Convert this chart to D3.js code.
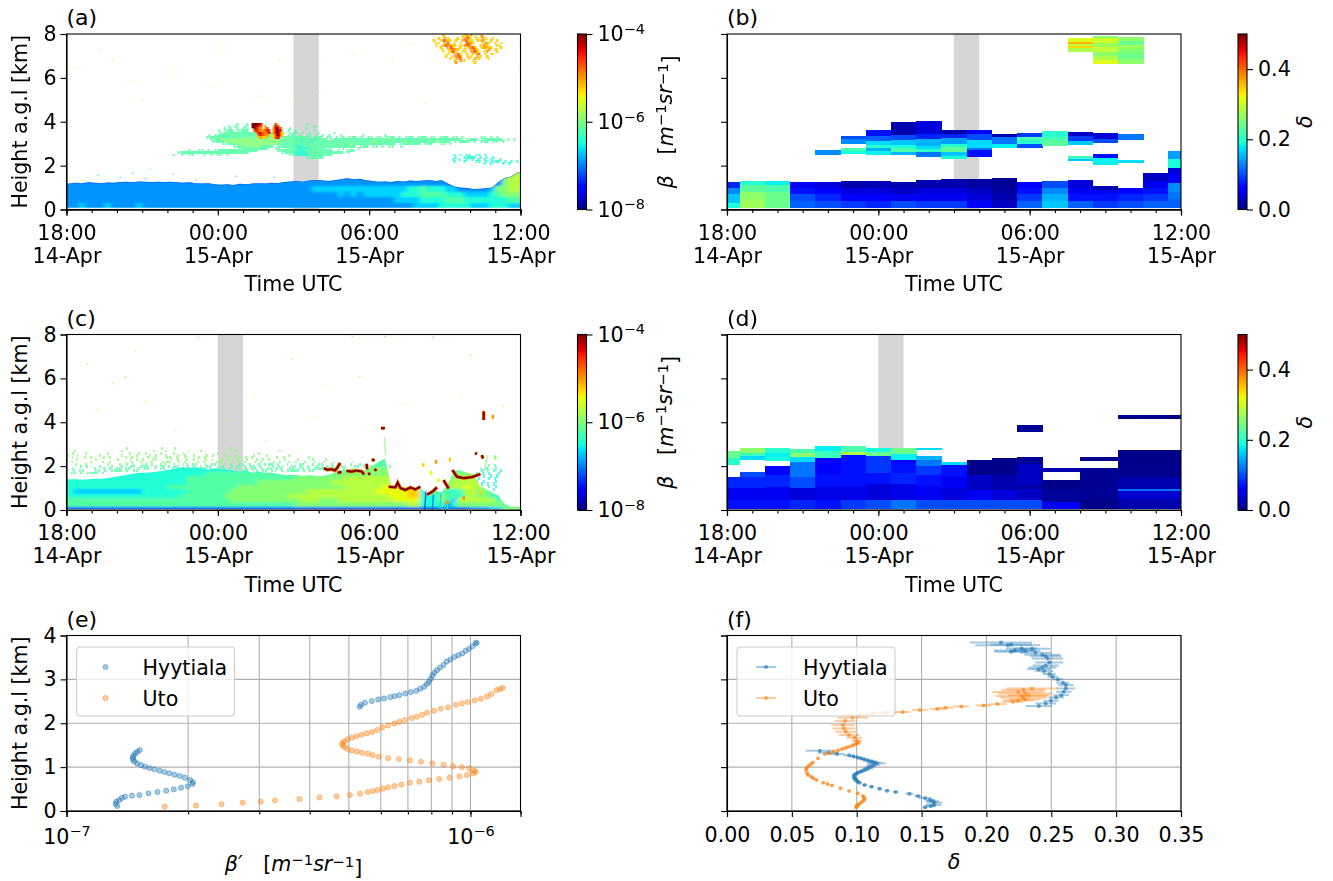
<!DOCTYPE html>
<html>
<meta charset='utf-8'>
<head>
<title>lidar curtains and profiles</title>
<script src='https://d3js.org/d3.v7.min.js'></script>
<style>
body { margin: 0; background: white; }
text { font-family: 'DejaVu Sans', sans-serif; fill: black; }
</style>
</head>
<body>
<div id='my_dataviz'></div>
<script>
// ---- data ----
var timeTicks = [0, 6, 12, 18]   // hours after 18:00 14-Apr
var timeLabels = ['18:00', '00:00', '06:00', '12:00']
var dateLabels = ['14-Apr', '15-Apr', '15-Apr', '15-Apr']
var heightTicks = [0, 2, 4, 6, 8]
var profileHeightTicks = [0, 1, 2, 3, 4]
var deltaTicks = [0, 0.05, 0.1, 0.15, 0.2, 0.25, 0.3, 0.35]
var betaBarTicks = [-8, -6, -4]
var deltaBarTicks = [0, 0.2, 0.4]
var betaMinorTicks = [2e-7, 3e-7, 4e-7, 5e-7, 6e-7, 7e-7, 8e-7, 9e-7, 1e-6]

// one character per cell in the curtains, log10(beta)
var levelKeys = '0123456789abcd'
var levelLog = [-7.4, -7.16, -6.92, -6.68, -6.44, -6.2, -5.96, -5.72, -5.48, -5.24, -5.0, -4.72, -4.4, -4.0]

// (a) Hyytiala attenuated backscatter
var aTop = [1.18,1.22,1.2,1.24,1.22,1.2,1.23,1.22, 1.25,1.27,1.24,1.28,1.26,1.25,1.27,1.25,
  1.27,1.24,1.22,1.24,1.2,1.18,1.2,1.15, 1.13,1.15,1.12,1.17,1.15,1.18,1.2,1.18,
  1.22,1.2,1.25,1.28,1.3,1.27,1.32,1.35, 1.33,1.3,1.33,1.38,1.42,1.38,1.4,1.33,
  1.3,1.27,1.28,1.25,1.3,1.28,1.32,1.3, 1.32,1.34,1.3,1.33,1.18,1.05,1.0,0.98,
  0.93,0.95,0.97,1.0,1.25,1.45,1.5,1.7]
var aLowEdges = [1.9, 1.05, 0.8, 0.55, 0.3, 0]
var aLowRows = [
  '22222222 22222222 22222222 22222222 22222222 22222222 22222222 22222222 22222677',
  '22222222 22222222 22222222 22222222 22222223 33333333 33333344 54443322 22236677',
  '22222222 22222222 22222222 22222222 22222222 22232323 33333444 55554443 33345666',
  '22222222 22222222 22222222 22222222 22222222 22222222 22223333 44445554 44444455',
  '22322232 22232222 22222222 22222222 22222222 22222222 22222223 33344444 33344433'
]
var aLayerTop = 3.95
var aLayerRows = [
  '_ _ _ ......5. .5...... ........ ....5...',
  '_ _ _ ...5.5.. 5..5.... .5...... ......5.',
  '_ _ _ .5.5.5.5 5.55.... ...5..5. ...5....',
  '_ _ _ 5.555.55 55.5.5.. .55.5.5. 5.....5.',
  '_ _ _ 55555555 5555.5.5 5.555.55 5.5.5..5 ....5...',
  '_ _ .....5.5 55555555 55555555 55555.55 5.5.55.5 .5.5...5 ......5. .....5..',
  '_ _ ....5555 55455555 55655655 55555555 55555.55 5.55.5.5 .555.5.5 5.55.555 .5.555.5 55.55.55 5.55.5.. ...55.5. 5.......',
  '_ _ .....555 66566566 66566656 66566555 55555455 55.55555 55555555 55555655 55545555 55655555 55555.55 55.55555 55.5.5..',
  '_ _ ......55 55666666 66666666 66665555 55455555 55555555 55555555 56555555 55565555 55555655 55.55555 .5.555.5 5.5.....',
  '_ _ _ .5555666 66666666 66555555 55555555 55555555 56555555 55555555 .5555555 .555..55 .5......',
  '_ _ _ .....555 66666655 55.55555 54455555 55555555 5555.555 .55.5.55 ..5.....',
  '_ _ _ ......55 55555555 ..55.555 54445555 55.5...5 ....5...',
  '_ ......5. .55.5.55 55555555 5555.... ..555555 44455555 5555.5.. 555.....',
  '_ ...55555 55555555 55555555 55...... ....5555 44445555 55555555 .5......',
  '_ .5..5.55 ...5.5.5 5.5..... _ ......55 44445555 5555.... _ _ _ _ ..4.4.44 .44.4...',
  '_ _ _ _ _ _ ....5555 55...... _ _ _ _ ...4..44 44.4.4.4',
  '_ _ _ _ _ _ _ _ _ _ _ _ ..4.4.4. 4.4.4.4. .4......',
  '_ _ _ _ _ _ _ _ _ _ _ _ ..4..4.. .44.4.44 4.4.4.4.',
  '_ _ _ _ _ _ _ _ _ _ _ _ _ ....4.4. ..4.4...'
]
var aBlobTop = 3.95
var aBlobRows = [
  '.ddddc......b...',
  '.dddcb.a....cb..',
  '..dcba.ab..acdb.',
  '..bcbaabcb.acdc.',
  '...accbabc.acdc9',
  '....bcbaa9.9bdc9',
  '....9a99...9bc..'
]
var aIceTop = 8.05
var aIceRows = [
  '...9......9.a..9......',
  '...9.....9a9.9.a......',
  '.9.a9..9.ab9.9.a9.9...',
  '9.9b99.9.ab99.9a9.9.9.',
  '99.ab.9.9.ba9..9a9.9.9',
  '.9.9ba99.9ab9..9a9..99',
  '..9.ab9.9.9ab9.9a99..9',
  '..9.9ba9.9.ab9..9a.9..',
  '...9.9b9.99.ab9.9a..9.',
  '....9.ab9.9.9ab.9.9...',
  '....9.9ab9.99.a9.9....',
  '.....9.ab..9.a9..9....',
  '......9.a9..9.........',
  '.......a.....9........'
]
var aDots = [[1.2,1.6,'3'],[2.6,1.7,'3'],[3.1,1.45,'3'],[4.2,1.65,'4'],[5.1,1.4,'3'],[3.3,1.9,'4'],[6.7,1.55,'3'],[8.2,1.5,'3'],[2.1,1.5,'3'],
  [0.3,6.5,'8'],[1.3,7.3,'7'],[1.8,6.8,'8'],[4.2,6.3,'8'],[2.6,5.9,'8'],[6.1,7.4,'8'],[8.4,6.9,'7'],[10,5.4,'7'],[9.9,6.7,'8'],[12.9,6.9,'8'],
  [3,5.0,'7'],[17.9,6.5,'8'],[9.2,5.1,'8'],[5.7,5.6,'7'],[13.6,7.6,'7'],[11.3,7.1,'8'],[16.8,3.3,'5'],[17.2,3.2,'5'],[14.2,4.9,'7'],[7.6,5.2,'7']]

// (c) Uto attenuated backscatter
var cTop = [1.4,1.4,1.38,1.4,1.42,1.42,1.45,1.5, 1.55,1.6,1.65,1.7,1.7,1.72,1.75,1.8,
  1.85,1.9,1.95,1.9,1.95,1.9,1.85,1.9, 1.85,1.85,1.8,1.75,1.8,1.7,1.75,1.7,
  1.7,1.65,1.6,1.6,1.6,1.55,1.6,1.55, 1.55,1.6,1.7,1.8,1.85,1.9,1.85,1.8,
  2.0,2.2,2.35,1.1,1.05,1.05,1.05,1.0, 0.95,0.6,0.9,0.8,1.2,1.8,1.8,1.7,
  1.65,1.1,0.95,0.8,0.65,0.25,0.15,0.15]
var cLowEdges = [2.6, 1.95, 1.75, 1.55, 1.35, 1.15, 0.95, 0.75, 0.55, 0.35, 0.15, 0]
var cLowRows = [
  '44444444 44444444 44444444 44444444 44444444 44445555 55555555 44444555 55555555',
  '44444444 44444444 44444444 44444444 44444555 55556666 66666666 44444555 55555555',
  '44444444 44444444 44444455 55555555 55555555 55666666 66666666 44555666 66665555',
  '44444444 44444444 44455555 55555555 55556666 66667777 77777666 45556677 77665555',
  '44444444 44444444 44455555 55555566 66666666 66777777 77777777 45566777 77665555',
  '44444444 44444444 55555555 55566666 66666666 66667777 77888888 45566778 77665555',
  '43333333 33334444 44455555 55666666 66666677 77777777 78888899 45555457 76655555',
  '44444444 44444444 44555555 56666666 66677777 77777777 77788899 44465547 76654555',
  '55555555 55555555 55555555 55666666 66666777 66677777 77778888 44465377 77775555',
  '55555555 55555555 55555555 55555555 55556666 66666666 66666677 44452466 66666555',
  '11111111 11111111 11111111 11111111 11111111 11111111 11111111 11122111 22233666'
]
var cSpeckTop = 2.85
var cSpeckRows = [
  '_ _ ...6.... ......6. ..6..... _ ....6...',
  '..6..... _ .6...... ...6...6 ......6. ..6..... .....6.. _ ...6....',
  '.6...6.. ....6... ...6..6. 6....6.. .6..6... ...6...6 .6...... ....6...',
  '6..6.... ..6..... .6....6. ..6.6..6 ...6.6.. 6...6.6. ..6..6.. ...6...6 ......6.',
  '.6...6.6 ...6.6.. ..6.6... .6.6...6 6.6..6.. .6.6.... ...6..6. 6.6..... ..6.6... ....6...',
  '6..6.... .6...... 6...6.6. 6..66... .6.6..6. 6...6.6. .6.6..6. .6..6.6. 6....6.. .6....6. ..6.....',
  '.6.....6 ...6.6.. ..6.6..6 .66...66 6..6.6.. .6.6...6 66..6.6. 6..6.6.. .6.6..6. 6..6..6. .6..6... ..6.....',
  '..6..6.. ....6... 6.5.6..5 5.6..56. .5..55.5 5..5.55. .5.5..55 .5..5.55 5.5..5.. .55..5.5 5..5.5.. .5..5.5.',
  '....5.5. ..5...5. .5..55.5 55..5.5. 5.55..5. 5.5.55.. 55..5.5. 5.55.5.. .5.55..5 5.5.5..5 .55.5..5 5..55.5. 5.5...5.',
  '.5...... 5..5.5.5 5.55..5. 55.5.55. .55.5.55 5.55.5.5 55.5.55. 5.55.5.5 5.55..55 .55.5.55 5.5.55.5',
  '5.5.55.. .55.5.55 55.5.55. _ _ _ _ 55.55.55 .55.5.55 55.5.55.',
  '.55.5.55 55.5....'
]
var cRightSpeckTop = 2.1
var cRightSpeckRows = [
  '....5.5.', '.5.4..5.', '.4.5.4.4', '4.4.4..4', '..4.4.4.', '.4..4.4.', '4.4...4.', '.4.4.4..', '4...4.4.', '..4..4..'
]
var cCloudLines = [
  [[10.2,1.9],[10.35,1.83],[10.5,1.86],[10.65,1.8],[10.75,1.95],[10.85,2.14]],
  [[10.75,1.7],[10.9,1.73]],
  [[11.1,1.78],[11.3,1.75],[11.5,1.8],[11.7,1.76],[11.8,1.62]],
  [[11.95,1.64],[12.05,1.66]],
  [[11.9,2.1],[11.92,1.85]],
  [[12.1,2.3],[12.22,2.26]],
  [[12.22,1.78],[12.28,1.88]],
  [[12.47,3.73],[12.62,3.73]],
  [[12.77,1.06],[13.04,1.03],[13.13,1.25],[13.24,1.0],[13.43,0.91],[13.63,1.03],[13.83,0.94],[14.03,1.06]],
  [[14.3,0.7],[14.5,0.83],[14.69,1.03]],
  [[14.95,1.36],[15.15,0.98]],
  [[15.3,1.82],[15.48,1.52],[15.75,1.45],[16.08,1.5],[16.41,1.64]],
  [[16.2,2.6],[16.27,2.55]],
  [[16.46,2.5],[16.52,2.35]],
  [[16.54,4.5],[16.54,4.1]]
]
var cVeins = [[14.2,0,14.25,0.85,'0'],[14.5,0,14.55,0.7,'1'],[14.8,0,14.85,0.8,'3'],[15.1,0,15.15,1.2,'4'],[12.65,2.5,12.6,3.3,'6'],[16.55,1.7,16.7,2.5,'6']]
var cSpots = [[14.15,2.05,'9'],[14.65,2.2,'a'],[15.2,2.3,'9'],[15.1,0.35,'a'],[15.75,0.55,'a'],[16.4,0.8,'9'],[17.0,2.4,'6'],[16.9,4.25,'a'],[14.45,1.7,'8'],[14.75,1.35,'8']]
var cDots = [[1.2,4.6,'9'],[2.3,6.1,'a'],[0.8,6.7,'9'],[1.8,5.8,'9'],[3.1,5.0,'8'],[5.2,7.9,'a'],[11.3,7.95,'a'],[12.6,7.95,'a'],[4.3,3.7,'6'],[7.9,3.2,'6'],
  [8.9,6.9,'9'],[10.2,5.7,'8'],[11.6,6.1,'9'],[14.5,7.9,'a'],[16,7.1,'9'],[15.6,5.2,'8'],[6.4,4.1,'8'],[9.8,4.3,'8'],[17.3,4.8,'9'],[13.4,4.9,'8'],[2.7,7.3,'9'],[7.4,5.3,'8']]

// (b) and (d) depolarisation, one column of [bottom, top, delta] per averaged hour
var bEdges = [0,0.5,1.5,2.5,3.5,4.5,5.5,6.5,7.5,8.5,9.5,10.5,11.5,12.5,13.5,14.5,15.5,16.5,17.5,18]
var bColumns = [
  [[.07,.3,.19],[.3,.7,.16],[.7,1,.13],[1,1.27,.08]],
  [[.07,.5,.27],[.5,.8,.26],[.8,1.1,.23],[1.1,1.3,.2]],
  [[.07,.5,.24],[.5,.8,.24],[.8,1.1,.22],[1.1,1.3,.18]],
  [[.07,.4,.11],[.4,.7,.1],[.7,1,.07],[1,1.25,.05]],
  [[.07,.4,.1],[.4,.7,.08],[.7,1,.055],[1,1.25,.04],[2.48,2.72,.13]],
  [[.07,.4,.09],[.4,.7,.06],[.7,1,.04],[1,1.28,.02],[2.55,2.68,.19],[2.68,2.8,.22],[3,3.2,.13],[3.2,3.35,.1]],
  [[.07,.4,.08],[.4,.7,.055],[.7,1,.04],[1,1.28,.025],[2.5,2.65,.18],[2.65,2.8,.15],[2.8,2.95,.2],[2.95,3.1,.17],[3.1,3.35,.11],[3.35,3.63,.07]],
  [[.07,.4,.1],[.4,.7,.05],[.7,1,.03],[1,1.25,.02],[2.5,2.6,.15],[2.6,2.8,.22],[2.8,2.95,.19],[2.95,3.15,.16],[3.15,3.4,.1],[3.4,3.98,.02]],
  [[.07,.4,.09],[.4,.7,.05],[.7,1,.04],[1,1.33,.02],[2.38,2.6,.12],[2.6,2.75,.2],[2.75,2.9,.17],[2.9,3.2,.15],[3.2,3.45,.08],[3.45,4.02,.04]],
  [[.07,.4,.09],[.4,.7,.05],[.7,1,.04],[1,1.38,.02],[2.3,2.45,.19],[2.45,2.6,.16],[2.6,2.85,.23],[2.85,3,.2],[3,3.25,.14],[3.25,3.45,.08],[3.45,3.63,.02]],
  [[.07,.4,.06],[.4,.7,.04],[.7,1,.03],[1,1.38,.015],[2.4,2.7,.07],[2.7,2.8,.12],[2.8,3.15,.17],[3.15,3.45,.1],[3.45,3.63,.06]],
  [[.07,.4,.03],[.4,.7,.02],[.7,1,.015],[1,1.42,.01],[2.8,3,.18],[3,3.3,.12],[3.3,3.45,.02]],
  [[.07,.4,.11],[.4,.7,.09],[.7,1,.07],[1,1.25,.06],[2.8,3,.1],[3,3.15,.2],[3.15,3.3,.22],[3.3,3.47,.09]],
  [[.07,.4,.16],[.4,.7,.15],[.7,1,.13],[1,1.28,.1],[2.9,3.1,.23],[3.1,3.3,.22],[3.3,3.58,.2]],
  [[.07,.4,.11],[.4,.7,.07],[.7,1,.05],[1,1.33,.04],[2.2,2.3,.16],[2.3,2.45,.21],[2.95,3.1,.16],[3.1,3.35,.09],[3.35,3.52,.03],
    [7.2,7.35,.28],[7.35,7.45,.34],[7.45,7.55,.29],[7.55,7.65,.36],[7.65,7.8,.31]],
  [[.07,.4,.09],[.4,.7,.07],[.7,.9,.05],[.9,1.05,.02],[2.05,2.35,.18],[2.35,2.53,.07],[3.03,3.2,.1],[3.2,3.5,.04],
    [6.65,6.8,.31],[6.8,7,.28],[7,7.2,.26],[7.2,7.4,.29],[7.4,7.6,.27],[7.6,7.8,.3],[7.8,7.92,.26]],
  [[.07,.4,.1],[.4,.7,.08],[.7,.9,.06],[.9,1,.05],[2.13,2.25,.17],[3.18,3.42,.12],
    [6.65,6.85,.26],[6.85,7.1,.24],[7.1,7.3,.25],[7.3,7.5,.27],[7.5,7.7,.24],[7.7,7.85,.26]],
  [[.07,.4,.11],[.4,.7,.09],[.7,1,.07],[1,1.3,.05],[1.3,1.65,.03]],
  [[.07,.5,.11],[.5,.8,.12],[.8,1.2,.13],[1.2,1.6,.06],[1.6,1.9,.04],[1.9,2.3,.19],[2.3,2.65,.14]]
]
var dEdges = [0,0.5,1.5,2.5,3.5,4.5,5.5,6.5,7.5,8.5,9.5,10.5,11.5,12.5,14,15.5,18]
var dColumns = [
  [[.05,.45,.07],[.45,1,.05],[1,1.52,.08],[2.05,2.35,.2],[2.35,2.67,.24]],
  [[.05,.45,.07],[.45,1,.05],[1,1.5,.08],[1.5,1.72,.1],[2.28,2.45,.17],[2.45,2.6,.21],[2.6,2.81,.26]],
  [[.05,.45,.07],[.45,1.05,.05],[1.05,1.6,.08],[1.6,2.02,.06],[2.24,2.4,.19],[2.4,2.6,.18],[2.6,2.81,.2]],
  [[.05,.45,.08],[.45,1,.04],[1,1.5,.1],[1.5,2.2,.12],[2.2,2.4,.17],[2.4,2.6,.26],[2.6,2.77,.22]],
  [[.05,.45,.07],[.45,1.1,.045],[1.1,1.6,.07],[1.6,2.35,.06],[2.35,2.7,.21],[2.7,2.93,.18]],
  [[.05,.45,.09],[.45,1.1,.045],[1.1,1.6,.07],[1.6,2.5,.07],[2.5,2.65,.28],[2.65,2.9,.22]],
  [[.05,.45,.1],[.45,1.2,.04],[1.2,1.7,.07],[1.7,2.3,.09],[2.3,2.45,.09],[2.45,2.65,.24],[2.65,2.81,.19]],
  [[.05,.45,.12],[.45,1.2,.045],[1.2,1.7,.08],[1.7,2.15,.07],[2.15,2.3,.06],[2.3,2.55,.18],[2.55,2.84,.24]],
  [[.05,.45,.1],[.45,1.1,.05],[1.1,1.6,.07],[1.6,2,.09],[2,2.3,.12],[2.3,2.46,.15],[2.75,2.84,.17]],
  [[.05,.45,.1],[.45,1,.04],[1,1.5,.05],[1.5,2.05,.07],[2.05,2.17,.17]],
  [[.05,.45,.1],[.45,.9,.05],[.9,1.6,.03],[1.6,2.28,.005]],
  [[.05,.45,.1],[.45,.9,.04],[.9,1.6,.02],[1.6,2.36,.005]],
  [[.05,.45,.1],[.45,.95,.03],[.95,1.15,.015],[1.15,2.1,.03],[2.1,2.42,.01],[3.55,3.87,.01]],
  [[.05,.35,.05],[.35,.9,.012],[.9,1.37,.005],[1.75,1.92,.02]],
  [[.05,.5,.005],[.5,1,.01],[1,1.9,.008],[2.25,2.43,.005]],
  [[.05,.5,.02],[.5,.88,.035],[.88,.94,.12],[.94,1.5,.02],[1.5,2,.007],[2,2.74,.005],[4.15,4.33,.005]]
]

// (e) profiles of beta'
var eHyyBeta = [1.336,1.323,1.328,1.35,1.371,1.396,1.452,1.516,1.596,1.68,1.765,1.843,1.921,1.995,2.051,2.055,2.022,1.964,1.907,1.851,1.797,1.748,1.7,1.651,1.605,1.565,1.529,1.496,1.472,1.46,1.46,1.466,1.481,1.498,1.519,
  5.32,5.36,5.48,5.7,5.91,6.11,6.33,6.49,6.67,6.9,7.12,7.34,7.51,7.68,7.8,7.89,7.97,8.05,8.14,8.26,8.41,8.58,8.74,8.92,9.13,9.33,9.54,9.73,9.92,10.12,10.3,10.36]
var eHyyHeight = [.114,.159,.213,.25,.296,.326,.349,.364,.402,.433,.463,.493,.531,.562,.615,.66,.706,.759,.797,.827,.858,.888,.918,.949,.979,1.01,1.047,1.085,1.131,1.176,1.222,1.268,1.313,1.351,1.389,
  2.376,2.421,2.467,2.505,2.543,2.565,2.596,2.619,2.641,2.679,2.71,2.74,2.786,2.831,2.892,2.945,3.013,3.089,3.15,3.21,3.271,3.332,3.408,3.453,3.514,3.552,3.59,3.651,3.696,3.757,3.818,3.84]
var eUtoBeta = [1.751,2.091,2.42,2.73,3.025,3.281,3.773,4.231,4.66,5.03,5.33,5.57,5.73,5.89,6.07,6.25,6.48,6.74,7.08,7.47,7.89,8.37,8.88,9.39,9.8,10.16,10.3,10.2,
  9.94,9.52,9.06,8.58,8.05,7.54,7.08,6.65,6.25,5.93,5.73,5.57,5.39,5.24,5.09,4.96,4.87,4.82,4.82,4.87,4.96,5.09,5.22,5.37,5.53,5.7,5.87,6.05,6.25,6.48,6.67,6.87,7.15,7.36,7.59,7.81,8.13,8.45,8.8,9.2,9.52,9.84,10.24,10.61,10.99,11.26,11.6,11.83,12.02]
var eUtoHeight = [.099,.121,.152,.19,.213,.243,.273,.311,.334,.364,.395,.433,.455,.478,.509,.539,.569,.6,.645,.668,.698,.729,.759,.789,.82,.858,.896,.918,
  .972,1.002,1.025,1.055,1.085,1.123,1.154,1.184,1.207,1.237,1.275,1.306,1.328,1.351,1.381,1.419,1.457,1.503,1.541,1.586,1.632,1.67,1.708,1.738,1.768,1.799,1.844,1.905,1.951,1.996,2.034,2.072,2.118,2.148,2.194,2.239,2.285,2.33,2.361,2.421,2.452,2.482,2.52,2.558,2.611,2.664,2.755,2.778,2.808]

// (f) profiles of delta with spread
var fHyyDelta = [.1527,.157,.1593,.1601,.1585,.1566,.1527,.1473,.1407,.13,.1234,.1176,.1114,.1061,.1021,.1005,.0995,.0985,.0981,.0981,.0995,.1008,.1028,.1048,.1068,.1088,.1108,.1128,.1154,.1135,.1114,.1088,.1061,.1035,.1008,.0975,.0941,.0848,.0782,.0715,
  .2404,.2457,.2497,.2537,.2577,.2596,.2612,.2612,.259,.2551,.2511,.2484,.2444,.2404,.2431,.2457,.2484,.2471,.2457,.2431,.2378,.2298,.2351,.2191,.2218,.2271,.2191,.2165,.2112]
var fHyyHeight = [.083,.11,.137,.19,.22,.25,.296,.342,.395,.433,.463,.509,.554,.592,.645,.675,.706,.735,.767,.82,.85,.873,.895,.918,.945,.972,1.01,1.047,1.085,1.108,1.131,1.153,1.176,1.199,1.222,1.245,1.268,1.298,1.328,1.374,
  2.391,2.452,2.512,2.588,2.641,2.717,2.793,2.869,2.922,2.998,3.059,3.12,3.188,3.233,3.27,3.317,3.385,3.476,3.529,3.56,3.605,3.651,3.7,3.628,3.66,3.704,3.795,3.78,3.84]
var fHyyErr = [.002,.004,.006,.006,.005,.004,.005,.003,.003,.002,.002,.002,.002,.002,.002,.002,.002,.002,.002,.002,.002,.002,.002,.003,.003,.004,.004,.005,.007,.005,.004,.004,.003,.003,.003,.003,.004,.006,.008,.011,
  .01,.008,.006,.006,.006,.006,.007,.006,.005,.004,.004,.005,.007,.009,.011,.01,.011,.012,.012,.014,.012,.012,.014,.013,.016,.012,.016,.025,.024]
var fUtoDelta = [.0995,.1,.1008,.102,.1035,.105,.1061,.1055,.1048,.1008,.0941,.0875,.0809,.0775,.0742,.0689,.0665,.0649,.0625,.0617,.0609,.0615,.0628,.0645,.0662,.0702,.0755,.079,.0822,.0855,.0888,.0915,.0941,.097,.0995,.1008,.1,.0981,.0941,.0915,.0902,.0894,.091,.0968,.1021,.1128,.1234,.1354,.1487,.162,.1686,.1806,.1979,.2085,.2205,.2245,.2298,.2285,.2271,.2325,.2298,.2245,.2285,.2352]
var fUtoHeight = [.083,.11,.137,.165,.197,.235,.273,.31,.342,.402,.455,.516,.584,.615,.645,.706,.745,.782,.82,.858,.934,.98,1.025,1.065,1.108,1.199,1.298,1.325,1.351,1.38,1.412,1.44,1.465,1.495,1.526,1.565,1.602,1.67,1.731,1.806,1.882,1.958,2.057,2.133,2.186,2.224,2.247,2.254,2.3,2.323,2.353,2.383,2.406,2.436,2.49,2.52,2.543,2.58,2.62,2.64,2.679,2.71,2.755,2.79]
var fUtoErr = [.001,.001,.002,.001,.001,.001,.001,.001,.001,.001,.001,.001,.001,.001,.001,.001,.001,.001,.001,.001,.001,.001,.001,.001,.001,.001,.001,.001,.001,.002,.002,.002,.002,.002,.003,.003,.004,.006,.008,.008,.009,.009,.008,.012,.012,.01,.008,.006,.006,.006,.006,.006,.006,.007,.008,.012,.012,.018,.02,.016,.021,.02,.017,.02]

// ---- layout ----
var leftX = 66.5, rightX = 727, plotW = 454, plotH = 175.5
var row1 = 34, row2 = 334.5, row3 = 635.5
var barOffset = 511, barW = 9
var fontSize = 20.6, letterSize = 22
var blue = '#1f77b4', orange = '#ff7f0e', shade = '#d6d6d6'

var svg = d3.select('#my_dataviz').append('svg').attr('width', 1333).attr('height', 881)
var defs = svg.append('defs')
defs.append('filter').attr('id', 'soft')
  .attr('x', 0).attr('y', 0).attr('width', 1).attr('height', 1)
  .append('feGaussianBlur').attr('stdDeviation', 0.5)
defs.append('filter').attr('id', 'smear')
  .attr('x', 0).attr('y', 0).attr('width', 1).attr('height', 1)
  .append('feGaussianBlur').attr('stdDeviation', '2.2 0.9')

var jetR = d3.scaleLinear().domain([0,.35,.66,.89,1]).range([0,0,255,255,127]).clamp(true)
var jetG = d3.scaleLinear().domain([0,.125,.375,.64,.91,1]).range([0,0,255,255,0,0]).clamp(true)
var jetB = d3.scaleLinear().domain([0,.11,.34,.65,1]).range([127,255,255,0,0]).clamp(true)
function jet(f) { return 'rgb(' + jetR(f) + ',' + jetG(f) + ',' + jetB(f) + ')' }

var betaColor = d3.scaleLog().domain([1e-8, 1e-4]).range([0, 1])
var deltaColor = d3.scaleLinear().domain([0, 0.5]).range([0, 1])
function levelValue(ch) { return Math.pow(10, levelLog[levelKeys.indexOf(ch)]) }
function levelColor(ch) { return jet(betaColor(levelValue(ch))) }

var x = d3.scaleLinear().domain([0, 18]).range([0, plotW])
var yKm = d3.scaleLinear().domain([0, 8]).range([plotH, 0])
var yProfile = d3.scaleLinear().domain([0, 4]).range([plotH, 0])

var clipCount = 0
function addPanel(left, top, letter) {
  var g = svg.append('g').attr('transform', 'translate(' + left + ',' + top + ')')
  g.append('text').attr('x', 0).attr('y', -9).style('font-size', letterSize + 'px').text('(' + letter + ')')
  clipCount++
  g.append('clipPath').attr('id', 'clip' + clipCount).append('rect').attr('width', plotW).attr('height', plotH)
  g.body = g.append('g').attr('clip-path', 'url(#clip' + clipCount + ')')
  return g
}

function styleAxis(sel) {
  sel.style('font-family', "'DejaVu Sans', sans-serif").style('font-size', fontSize + 'px')
  sel.selectAll('.domain').attr('stroke', 'black').attr('stroke-width', 1.1)
  sel.selectAll('.tick line').attr('stroke', 'black').attr('stroke-width', 1.1)
}

function frame(g) {
  g.append('rect').attr('width', plotW).attr('height', plotH)
    .attr('fill', 'none').attr('stroke', 'black').attr('stroke-width', 1.1)
}

function timeAxis(g) {
  var minor = g.append('g').attr('transform', 'translate(0,' + plotH + ')')
    .call(d3.axisBottom(x).tickValues(d3.range(0, 19)).tickSize(3.5).tickFormat(''))
  styleAxis(minor)
  var major = g.append('g').attr('transform', 'translate(0,' + plotH + ')')
    .call(d3.axisBottom(x).tickValues(timeTicks).tickSize(6).tickPadding(9.5).tickFormat(function(d, i) { return timeLabels[i] }))
  styleAxis(major)
  major.selectAll('.tick').append('text')
    .attr('fill', 'black').attr('y', 38.5).attr('dy', '0.71em').attr('text-anchor', 'middle')
    .text(function(d, i) { return dateLabels[i] })
  g.append('text').attr('x', plotW / 2).attr('y', plotH + 81.5).attr('text-anchor', 'middle')
    .style('font-size', fontSize + 'px').text('Time UTC')
}

function heightAxis(g, scale, ticks, labelled) {
  var axis = d3.axisLeft(scale).tickValues(ticks).tickSize(6).tickPadding(4)
  axis.tickFormat(labelled ? d3.format('d') : '')
  styleAxis(g.append('g').call(axis))
  if (labelled) {
    g.append('text').attr('transform', 'translate(-40,' + (plotH / 2) + ') rotate(-90)')
      .attr('text-anchor', 'middle').style('font-size', fontSize + 'px').text('Height a.g.l [km]')
  }
}

function addGray(g, hour) {
  g.body.append('rect').attr('x', x(hour)).attr('width', x(hour + 1) - x(hour))
    .attr('y', 0).attr('height', plotH).attr('fill', shade)
}

// strings become cells; '_' is a blank hour, '.' a blank cell
function expandRow(row) { return row.replace(/_/g, '........').replace(/ /g, '') }

function gridCells(rows, t0, dt, topKm, dh, stagger) {
  var cells = []
  rows.forEach(function(row, r) {
    var chars = expandRow(row).split('')
    var shift = stagger ? ((r * 7) % 5) * dt / 5 : 0
    chars.forEach(function(ch, c) {
      if (ch === '.') return
      cells.push({
        t0: t0 + c * dt + shift, t1: t0 + (c + 1) * dt + shift,
        h0: topKm - (r + 1) * dh, h1: topKm - r * dh, v: levelValue(ch),
        solo: chars[c - 1] === '.' || chars[c + 1] === '.' || chars[c - 1] === undefined || chars[c + 1] === undefined
      })
    })
  })
  return cells
}

// low layer cells run past the panel so the smear does not fade at the sides
function layerCells(rows, edges) {
  var cells = []
  rows.forEach(function(row, r) {
    var chars = expandRow(row).split('')
    chars.forEach(function(ch, c) {
      cells.push({
        t0: c === 0 ? -0.6 : c * 0.25, t1: c === chars.length - 1 ? 18.6 : (c + 1) * 0.25,
        h0: edges[r + 1], h1: edges[r], v: levelValue(ch)
      })
    })
  })
  return cells
}

function drawCells(parent, cells, speck, opacity) {
  parent.append('g').attr('shape-rendering', 'crispEdges').attr('opacity', opacity || 1).selectAll('rect')
    .data(cells).enter().append('rect')
    .attr('x', function(d) { return x(d.t0) })
    .attr('y', function(d) { return yKm(d.h1) })
    .attr('width', function(d) { return d.solo && speck ? speck : x(d.t1) - x(d.t0) + 0.6 })
    .attr('height', function(d) { return yKm(d.h0) - yKm(d.h1) + 0.6 })
    .attr('fill', function(d) { return jet(betaColor(d.v)) })
}

// the low layer: smeared colours cut along the layer top
function drawLowLayer(g, rows, edges, tops, floorKm, rim) {
  var pts = tops.map(function(h, i) { return [(i + 0.5) * 0.25, h] })
  pts = [[0, tops[0]]].concat(pts, [[18, tops[tops.length - 1]]])
  clipCount++
  g.append('clipPath').attr('id', 'clip' + clipCount).append('path')
    .attr('d', d3.area().x(function(d) { return x(d[0]) }).y0(yKm(floorKm)).y1(function(d) { return yKm(d[1]) })(pts))
  var cut = g.body.append('g').attr('clip-path', 'url(#clip' + clipCount + ')')
  drawCells(cut.append('g').attr('filter', 'url(#smear)'), layerCells(rows, edges))
  if (rim) {
    cut.append('path').attr('d', d3.line().x(function(d) { return x(d[0]) }).y(function(d) { return yKm(d[1]) })(pts))
      .attr('fill', 'none').attr('stroke', jet(0.2)).attr('stroke-width', 1.4).attr('opacity', 0.55)
  }
}

function drawDots(parent, dots) {
  parent.append('g').selectAll('rect').data(dots).enter().append('rect')
    .attr('x', function(d) { return x(d[0]) })
    .attr('y', function(d) { return yKm(d[1]) })
    .attr('width', 1.6).attr('height', 1.6)
    .attr('fill', function(d) { return levelColor(d[2]) })
    .attr('opacity', 0.55)
}

function drawColumns(g, edges, columns) {
  var cells = []
  columns.forEach(function(col, i) {
    col.forEach(function(s) { cells.push({t0: edges[i], t1: edges[i + 1], h0: s[0], h1: s[1], v: s[2]}) })
  })
  g.body.append('g').attr('shape-rendering', 'crispEdges').selectAll('rect')
    .data(cells).enter().append('rect')
    .attr('x', function(d) { return x(d.t0) })
    .attr('y', function(d) { return yKm(d.h1) })
    .attr('width', function(d) { return x(d.t1) - x(d.t0) + 0.4 })
    .attr('height', function(d) { return yKm(d.h0) - yKm(d.h1) })
    .attr('fill', function(d) { return jet(deltaColor(d.v)) })
}

function addPowerLabel(text, exp) {
  text.append('tspan').text('10')
  text.append('tspan').attr('dy', '-0.5em').style('font-size', '70%').text('\u2212' + exp)
}

function addBetaUnits(text, prime) {
  text.append('tspan').style('font-style', 'italic').text('\u03b2' + (prime ? '\u2032' : ''))
  text.append('tspan').attr('dx', '1em').text('[')
  text.append('tspan').style('font-style', 'italic').text('m')
  text.append('tspan').attr('dy', '-0.42em').style('font-size', '72%').text('\u22121')
  text.append('tspan').attr('dy', '0.3em').style('font-style', 'italic').text('sr')
  text.append('tspan').attr('dy', '-0.3em').style('font-size', '72%').text('\u22121')
  text.append('tspan').attr('dy', '0.42em').text(']')
}

function colorbar(left, top, isBeta) {
  var g = svg.append('g').attr('transform', 'translate(' + left + ',' + top + ')')
  var barY = d3.scaleLinear().domain([0, 1]).range([plotH, 0])
  g.append('g').attr('shape-rendering', 'crispEdges').selectAll('rect')
    .data(d3.range(0, 1, 1 / 176)).enter().append('rect')
    .attr('x', 0).attr('width', barW)
    .attr('y', function(d) { return barY(d) - plotH / 176 })
    .attr('height', plotH / 176 + 0.6)
    .attr('fill', jet)
  g.append('rect').attr('width', barW).attr('height', plotH).attr('fill', 'none').attr('stroke', 'black').attr('stroke-width', 1.1)
  var scale = isBeta ? d3.scaleLinear().domain([-8, -4]).range([plotH, 0]) : d3.scaleLinear().domain([0, 0.5]).range([plotH, 0])
  var axis = g.append('g').attr('transform', 'translate(' + barW + ',0)')
    .call(d3.axisRight(scale).tickValues(isBeta ? betaBarTicks : deltaBarTicks).tickSize(6).tickPadding(5)
      .tickFormat(isBeta ? '' : d3.format('.1f')))
  styleAxis(axis)
  axis.select('.domain').remove()
  if (isBeta) {
    axis.selectAll('.tick').append('text').attr('x', 11).attr('dy', '0.32em').attr('text-anchor', 'start').attr('fill', 'black')
      .each(function(d) { addPowerLabel(d3.select(this), -d) })
    var label = g.append('text').attr('transform', 'translate(95,' + (plotH / 2) + ') rotate(-90)')
      .attr('text-anchor', 'middle').style('font-size', fontSize + 'px')
    addBetaUnits(label, false)
  } else {
    g.append('text').attr('transform', 'translate(74,' + (plotH / 2) + ') rotate(-90)')
      .attr('text-anchor', 'middle').style('font-size', fontSize + 'px').style('font-style', 'italic').text('\u03b4')
  }
}

function legendBox(g, sampleDraw) {
  var names = ['Hyytiala', 'Uto'], colors = [blue, orange]
  var box = g.append('g').attr('transform', 'translate(10,11.5)')
  box.append('rect').attr('width', 158).attr('height', 69).attr('rx', 3.5)
    .attr('fill', 'white').attr('fill-opacity', 0.8).attr('stroke', '#cccccc').attr('stroke-width', 1.1)
  names.forEach(function(name, i) {
    var yy = 20 + i * 31
    sampleDraw(box, yy, colors[i])
    box.append('text').attr('x', 66).attr('y', yy + 7.5).style('font-size', fontSize + 'px').text(name)
  })
}

// ---- (a) ----
var pa = addPanel(leftX, row1, 'a')
addGray(pa, 9)
drawLowLayer(pa, aLowRows, aLowEdges, aTop, 0.08, true)
var softA = pa.body.append('g').attr('filter', 'url(#soft)')
drawCells(softA, gridCells(aLayerRows, 3, 0.125, aLayerTop, 0.1, true), 2, 0.85)
drawCells(softA, gridCells(aIceRows, 14.5, 0.125, aIceTop, 0.1, true), 2.4, 0.9)
drawCells(softA, gridCells(aBlobRows, 7.25, 1 / 12, aBlobTop, 0.1, false))
drawDots(pa.body, aDots)
frame(pa); timeAxis(pa); heightAxis(pa, yKm, heightTicks, true)
colorbar(leftX + barOffset, row1, true)

// ---- (b) ----
var pb = addPanel(rightX, row1, 'b')
addGray(pb, 9)
drawColumns(pb, bEdges, bColumns)
frame(pb); timeAxis(pb); heightAxis(pb, yKm, heightTicks, false)
colorbar(rightX + barOffset, row1, false)

// ---- (c) ----
var pc = addPanel(leftX, row2, 'c')
addGray(pc, 6)
var speckC = pc.body.append('g').attr('filter', 'url(#soft)')
drawCells(speckC, gridCells(cSpeckRows, 0, 0.125, cSpeckTop, 0.1, true), 1.9, 0.75)
drawCells(speckC, gridCells(cRightSpeckRows, 16.2, 0.125, cRightSpeckTop, 0.12, true), 1.9, 0.75)
drawLowLayer(pc, cLowRows, cLowEdges, cTop, 0.05, false)
var softC = pc.body.append('g').attr('filter', 'url(#soft)')
softC.append('g').attr('opacity', 0.75).selectAll('line').data(cVeins).enter().append('line')
  .attr('x1', function(d) { return x(d[0]) }).attr('y1', function(d) { return yKm(d[1]) })
  .attr('x2', function(d) { return x(d[2]) }).attr('y2', function(d) { return yKm(d[3]) })
  .attr('stroke', function(d) { return levelColor(d[4]) }).attr('stroke-width', 1.3)
var cloudLine = d3.line().x(function(d) { return x(d[0]) }).y(function(d) { return yKm(d[1]) })
softC.append('g').selectAll('path').data(cCloudLines).enter().append('path')
  .attr('d', cloudLine).attr('fill', 'none').attr('stroke', jet(0.78)).attr('stroke-width', 3.6).attr('opacity', 0.9)
softC.append('g').selectAll('path').data(cCloudLines).enter().append('path')
  .attr('d', cloudLine).attr('fill', 'none').attr('stroke', jet(1)).attr('stroke-width', 2.2)
softC.append('g').selectAll('rect').data(cSpots).enter().append('rect')
  .attr('x', function(d) { return x(d[0]) - 1.2 }).attr('y', function(d) { return yKm(d[1]) - 2 })
  .attr('width', 2.4).attr('height', 4)
  .attr('fill', function(d) { return levelColor(d[2]) })
drawDots(pc.body, cDots)
frame(pc); timeAxis(pc); heightAxis(pc, yKm, heightTicks, true)
colorbar(leftX + barOffset, row2, true)

// ---- (d) ----
var pd = addPanel(rightX, row2, 'd')
addGray(pd, 6)
drawColumns(pd, dEdges, dColumns)
frame(pd); timeAxis(pd); heightAxis(pd, yKm, heightTicks, false)
colorbar(rightX + barOffset, row2, false)

// ---- (e) ----
var pe = addPanel(leftX, row3, 'e')
var xBeta = d3.scaleLog().domain([1e-7, 1.33e-6]).range([0, plotW])
pe.append('g').selectAll('line').data(betaMinorTicks).enter().append('line')
  .attr('x1', xBeta).attr('x2', xBeta).attr('y1', 0).attr('y2', plotH).attr('stroke', '#b0b0b0').attr('stroke-width', 1.1)
pe.append('g').selectAll('line').data(profileHeightTicks).enter().append('line')
  .attr('y1', yProfile).attr('y2', yProfile).attr('x1', 0).attr('x2', plotW).attr('stroke', '#b0b0b0').attr('stroke-width', 1.1)
function scatter(g, betas, heights, color) {
  g.append('g').selectAll('circle').data(betas).enter().append('circle')
    .attr('cx', function(d) { return xBeta(d * 1e-7) })
    .attr('cy', function(d, i) { return yProfile(heights[i]) })
    .attr('r', 2.6).attr('fill', color).attr('fill-opacity', 0.4)
    .attr('stroke', color).attr('stroke-opacity', 0.4)
}
scatter(pe, eHyyBeta, eHyyHeight, blue)
scatter(pe, eUtoBeta, eUtoHeight, orange)
frame(pe)
styleAxis(pe.append('g').attr('transform', 'translate(0,' + plotH + ')')
  .call(d3.axisBottom(xBeta).tickValues(betaMinorTicks).tickSize(3.5).tickFormat('')))
var betaMajor = pe.append('g').attr('transform', 'translate(0,' + plotH + ')')
  .call(d3.axisBottom(xBeta).tickValues([1e-7, 1e-6]).tickSize(6).tickFormat(''))
styleAxis(betaMajor)
betaMajor.selectAll('.tick').append('text').attr('y', 14).attr('dy', '0.9em').attr('text-anchor', 'middle').attr('fill', 'black')
  .each(function(d, i) { addPowerLabel(d3.select(this), 7 - i) })
var betaTitle = pe.append('text').attr('x', plotW / 2).attr('y', plotH + 60).attr('text-anchor', 'middle').style('font-size', fontSize + 'px')
addBetaUnits(betaTitle, true)
heightAxis(pe, yProfile, profileHeightTicks, true)
legendBox(pe, function(box, yy, color) {
  box.append('circle').attr('cx', 29).attr('cy', yy).attr('r', 2.6).attr('fill', color).attr('fill-opacity', 0.4)
    .attr('stroke', color).attr('stroke-opacity', 0.4)
})

// ---- (f) ----
var pf = addPanel(rightX, row3, 'f')
var xDelta = d3.scaleLinear().domain([0, 0.35]).range([0, plotW])
pf.append('g').selectAll('line').data(deltaTicks).enter().append('line')
  .attr('x1', xDelta).attr('x2', xDelta).attr('y1', 0).attr('y2', plotH).attr('stroke', '#b0b0b0').attr('stroke-width', 1.1)
pf.append('g').selectAll('line').data(profileHeightTicks).enter().append('line')
  .attr('y1', yProfile).attr('y2', yProfile).attr('x1', 0).attr('x2', plotW).attr('stroke', '#b0b0b0').attr('stroke-width', 1.1)
function errorProfile(g, deltas, heights, errs, color) {
  g.append('g').selectAll('line').data(deltas).enter().append('line')
    .attr('x1', function(d, i) { return xDelta(d - errs[i]) })
    .attr('x2', function(d, i) { return xDelta(d + errs[i]) })
    .attr('y1', function(d, i) { return yProfile(heights[i]) })
    .attr('y2', function(d, i) { return yProfile(heights[i]) })
    .attr('stroke', color).attr('stroke-opacity', 0.4).attr('stroke-width', 2)
  g.append('g').selectAll('circle').data(deltas).enter().append('circle')
    .attr('cx', xDelta).attr('cy', function(d, i) { return yProfile(heights[i]) })
    .attr('r', 2).attr('fill', color).attr('fill-opacity', 0.65)
}
errorProfile(pf, fHyyDelta, fHyyHeight, fHyyErr, blue)
errorProfile(pf, fUtoDelta, fUtoHeight, fUtoErr, orange)
frame(pf)
styleAxis(pf.append('g').attr('transform', 'translate(0,' + plotH + ')')
  .call(d3.axisBottom(xDelta).tickValues(deltaTicks).tickSize(6).tickPadding(10).tickFormat(d3.format('.2f'))))
pf.append('text').attr('x', plotW / 2).attr('y', plotH + 58).attr('text-anchor', 'middle')
  .style('font-size', fontSize + 'px').style('font-style', 'italic').text('\u03b4')
heightAxis(pf, yProfile, profileHeightTicks, false)
legendBox(pf, function(box, yy, color) {
  box.append('line').attr('x1', 19).attr('x2', 39).attr('y1', yy).attr('y2', yy).attr('stroke', color).attr('stroke-opacity', 0.4).attr('stroke-width', 2)
  box.append('circle').attr('cx', 29).attr('cy', yy).attr('r', 2).attr('fill', color).attr('fill-opacity', 0.65)
})
</script>
</body>
</html>
